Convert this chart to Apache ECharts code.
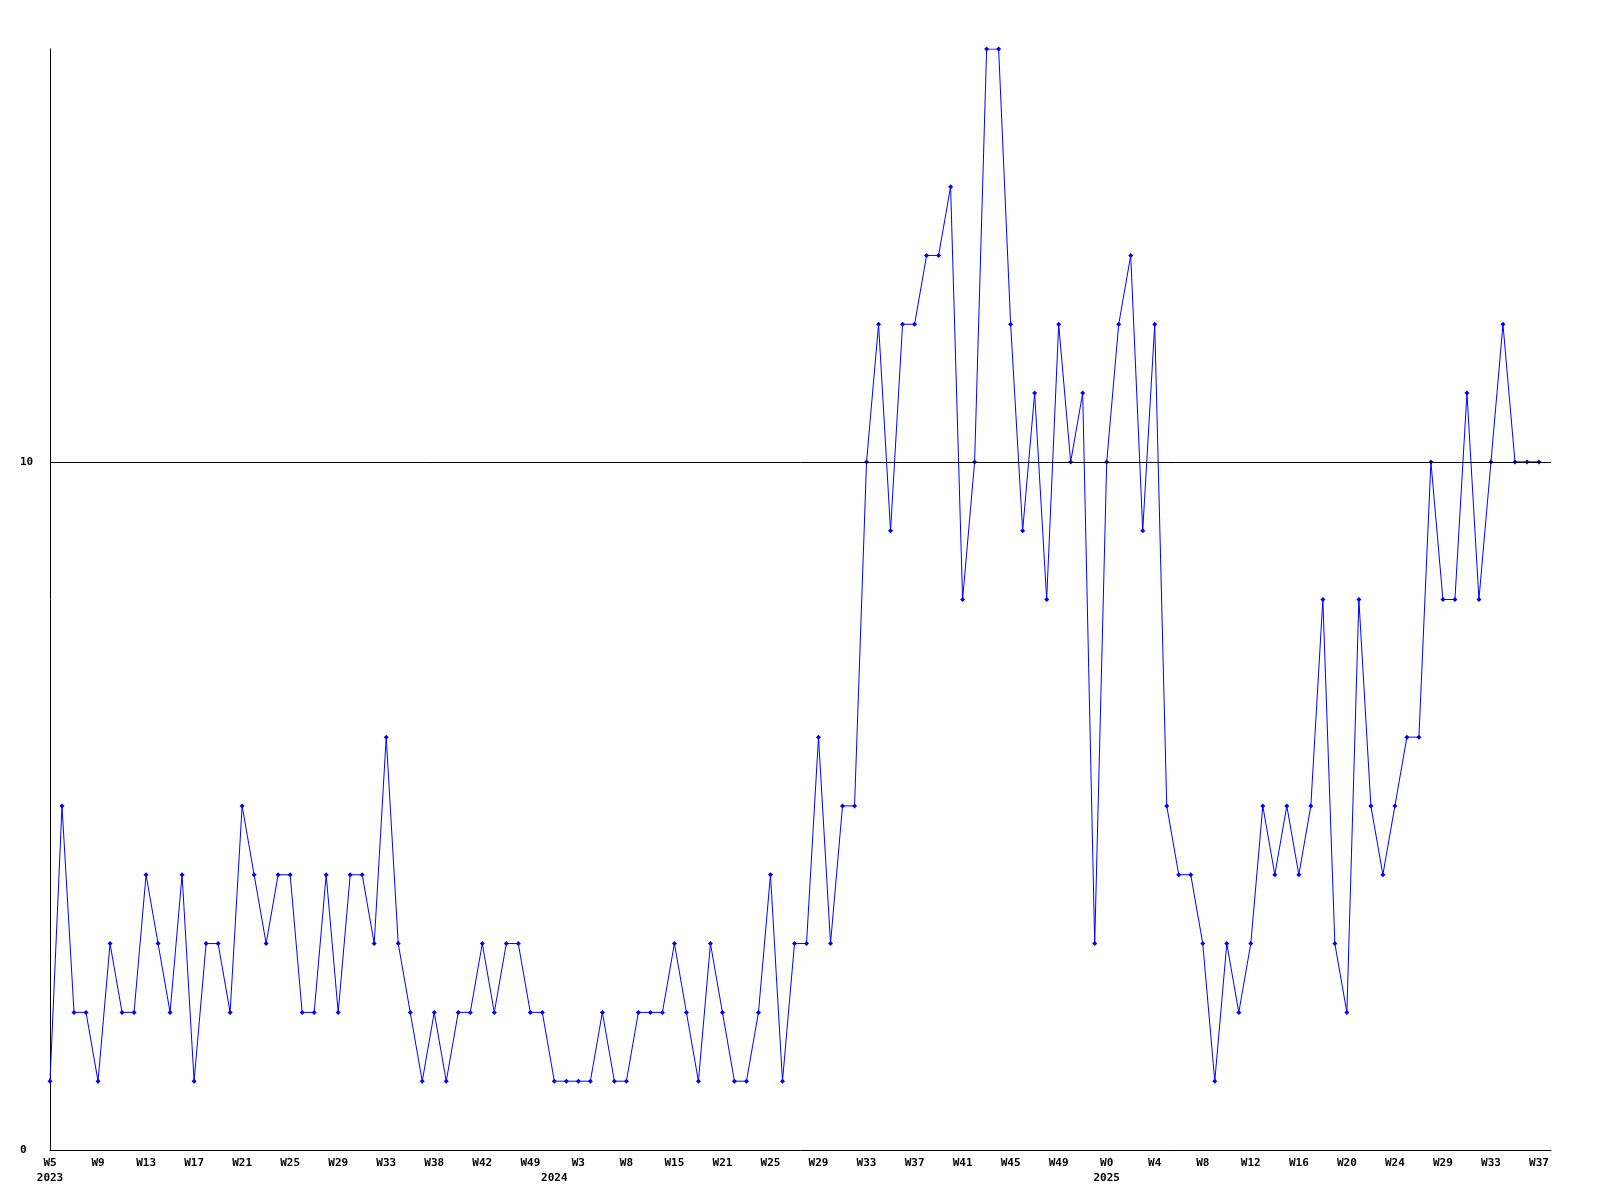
<!DOCTYPE html>
<html><head><meta charset="utf-8">
<script src="https://cdn.jsdelivr.net/npm/echarts@6/dist/echarts.min.js"></script>
<style>html,body{margin:0;padding:0;background:#fff}#c{width:1600px;height:1200px}</style>
</head><body><div id="c"></div>
<script>
// ISO week numbers of each weekly sample, per year
const weeks2023 = [5,6,7,8,9,10,11,12,13,14,15,16,17,18,19,20,21,22,23,24,25,26,27,28,29,30,31,32,33,34,35,36,38,39,40,41,42,44,46,47,49,51];
const weeks2024 = [1,2,3,4,6,7,8,10,12,13,15,17,18,19,21,22,23,24,25,26,27,28,29,30,31,32,33,34,35,36,37,38,39,40,41,42,43,44,45,46,47,48,49,50,51,52];
const weeks2025 = [0,1,2,3,4,5,6,7,8,9,10,11,12,13,14,15,16,17,18,19,20,21,22,23,24,25,27,28,29,30,31,32,33,34,35,36,37];

// weekly values
const values = [
  1,5,2,2,1,3,2,2,4,3,
  2,4,1,3,3,2,5,4,3,4,
  4,2,2,4,2,4,4,3,6,3,
  2,1,2,1,2,2,3,2,3,3,
  2,2,1,1,1,1,2,1,1,2,
  2,2,3,2,1,3,2,1,1,2,
  4,1,3,3,6,3,5,5,10,12,
  9,12,12,13,13,14,8,10,16,16,
  12,9,11,8,12,10,11,3,10,12,
  13,9,12,5,4,4,3,1,3,2,
  3,5,4,5,4,5,8,3,2,8,
  5,4,5,6,6,10,8,8,11,8,
  10,12,10,10,10
];

const yMin = 0, yMax = 16, yInterval = 10;
const referenceLine = 10;

const categories = [];
const years = [];
[[2023, weeks2023], [2024, weeks2024], [2025, weeks2025]].forEach(([y, ws]) => {
  ws.forEach(w => { categories.push('W' + w); years.push(y); });
});
const firstOfYear = i => i < years.length && (i === 0 || years[i] !== years[i - 1]);

const FONT = 'DejaVu Sans Mono';
const labelFont = {color: '#000', fontFamily: FONT, fontWeight: 'bold', fontSize: 11};
const chart = echarts.init(document.getElementById('c'), null, {renderer: 'canvas'});
chart.setOption({
  animation: false,
  backgroundColor: '#ffffff',
  grid: {left: 50, right: 49, top: 49, bottom: 50, containLabel: false},
  xAxis: [{
    type: 'category',
    data: categories,
    boundaryGap: false,
    max: categories.length,
    axisLine: {show: true, lineStyle: {color: '#000', width: 1}},
    axisTick: {show: false},
    splitLine: {show: false},
    axisLabel: Object.assign({
      interval: 3,
      margin: 8,
      formatter: (value, index) => (index < categories.length ? value : '')
    }, labelFont)
  }, {
    type: 'category',
    position: 'bottom',
    data: categories,
    boundaryGap: false,
    max: categories.length,
    axisLine: {show: false},
    axisTick: {show: false},
    splitLine: {show: false},
    axisLabel: Object.assign({
      interval: (index) => firstOfYear(index),
      margin: 23,
      formatter: (value, index) => (firstOfYear(index) ? String(years[index]) : '')
    }, labelFont)
  }],
  yAxis: {
    type: 'value',
    min: yMin,
    max: yMax,
    interval: yInterval,
    axisLine: {show: true, lineStyle: {color: '#000', width: 1}},
    axisTick: {show: false},
    splitLine: {show: false},
    axisLabel: Object.assign({
      showMaxLabel: false,
      align: 'left',
      margin: 30
    }, labelFont)
  },
  series: [{
    type: 'line',
    xAxisIndex: 0,
    data: values,
    symbol: 'diamond',
    symbolSize: 5,
    showAllSymbol: true,
    lineStyle: {color: '#0000ff', width: 1},
    itemStyle: {color: '#0000ff'},
    markLine: {
      silent: true,
      symbol: 'none',
      label: {show: false},
      lineStyle: {color: '#000', width: 1, type: 'solid'},
      data: [{yAxis: referenceLine}]
    }
  }]
});
</script></body></html>
